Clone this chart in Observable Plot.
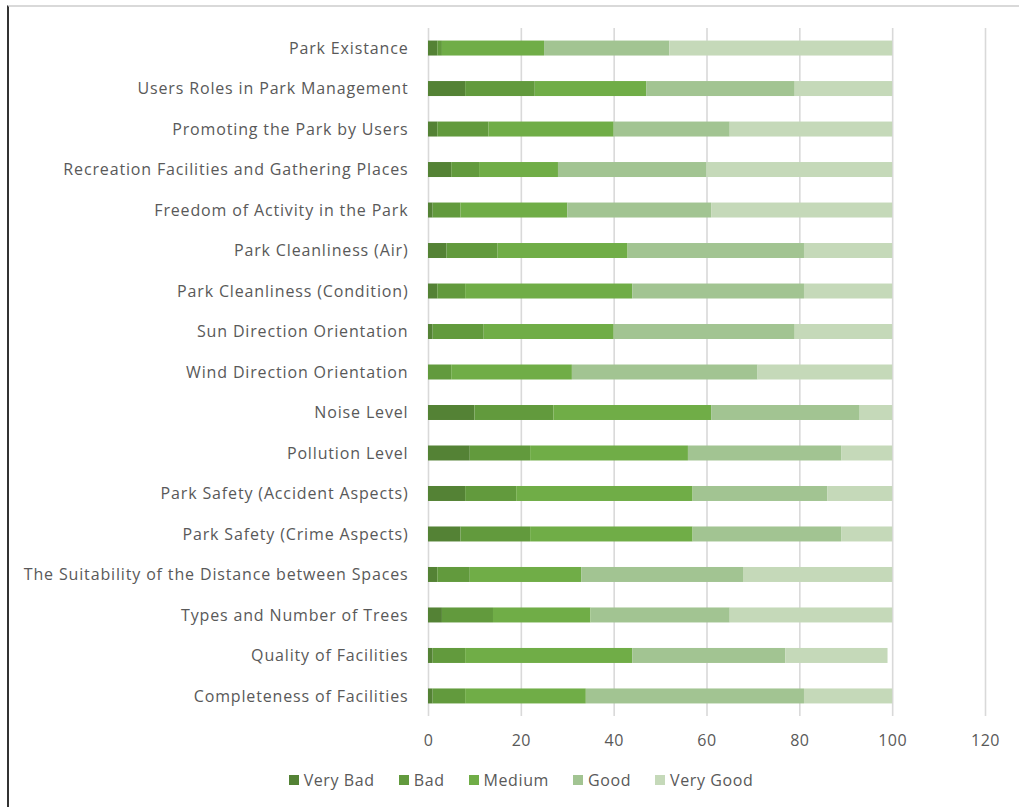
<!DOCTYPE html>
<html>
<head>
<meta charset="utf-8">
<script src="https://cdn.jsdelivr.net/npm/d3@7"></script>
<script src="https://cdn.jsdelivr.net/npm/@observablehq/plot@0.6"></script>
<style>
  html, body { margin: 0; padding: 0; background: #fff; }
  body { width: 1019px; height: 807px; position: relative; overflow: hidden; font-family: "Open Sans", Lato, sans-serif; }
  #frame { position: absolute; left: 7px; top: 5px; width: 1012px; height: 802px; border-left: 2px solid #333; border-top: 2px solid #d9d9d9; box-sizing: border-box; }
  #chart { position: absolute; left: 0; top: 0; }
  #chart svg g[aria-label="y-axis tick label"] text { letter-spacing: 0.85px; }
  #chart svg g[aria-label="x-axis tick label"] text { letter-spacing: 0.5px; }
  #legend { position: absolute; top: 769px; left: 0; width: 1042px; display: flex; justify-content: center; gap: 24px; font-size: 16px; color: #595959; letter-spacing: 0.6px; }
  #legend span.item { display: flex; align-items: center; }
  #legend span.sw { width: 10px; height: 10px; display: inline-block; margin-right: 5px; }
</style>
</head>
<body>
<div id="frame"></div>
<div id="chart"></div>
<div id="legend"></div>
<script>
const categories = [
  "Park Existance",
  "Users Roles in Park Management",
  "Promoting the Park by Users",
  "Recreation Facilities and Gathering Places",
  "Freedom of Activity in the Park",
  "Park Cleanliness (Air)",
  "Park Cleanliness (Condition)",
  "Sun Direction Orientation",
  "Wind Direction Orientation",
  "Noise Level",
  "Pollution Level",
  "Park Safety (Accident Aspects)",
  "Park Safety (Crime Aspects)",
  "The Suitability of the Distance between Spaces",
  "Types and Number of Trees",
  "Quality of Facilities",
  "Completeness of Facilities"
];
const levels = ["Very Bad", "Bad", "Medium", "Good", "Very Good"];
const veryBad  = [2, 8, 2, 5, 1, 4, 2, 1, 0, 10, 9, 8, 7, 2, 3, 1, 1];
const bad      = [1, 15, 11, 6, 6, 11, 6, 11, 5, 17, 13, 11, 15, 7, 11, 7, 7];
const medium   = [22, 24, 27, 17, 23, 28, 36, 28, 26, 34, 34, 38, 35, 24, 21, 36, 26];
const good     = [27, 32, 25, 32, 31, 38, 37, 39, 40, 32, 33, 29, 32, 35, 30, 33, 47];
const veryGood = [48, 21, 35, 40, 39, 19, 19, 21, 29, 7, 11, 14, 11, 32, 35, 22, 19];
const xTicks = [0, 20, 40, 60, 80, 100, 120];
const colors = ["#548235", "#629a3d", "#70ad47", "#a2c492", "#c5d9b9"];

const series = [veryBad, bad, medium, good, veryGood];
const data = [];
levels.forEach((lv, i) => {
  categories.forEach((c, j) => data.push({category: c, level: lv, value: series[i][j]}));
});

const chart = Plot.plot({
  width: 1019,
  height: 760,
  marginLeft: 428,
  marginRight: 34,
  marginTop: 28,
  marginBottom: 44,
  style: {fontFamily: "'Open Sans', Lato, sans-serif", fontSize: "16px", color: "#595959", background: "transparent"},
  x: {domain: [0, 120], ticks: xTicks, label: null, tickSize: 0, tickPadding: 18},
  y: {domain: categories, label: null, tickSize: 0, tickPadding: 20, paddingInner: 0.63, paddingOuter: 0.31, round: false},
  color: {domain: levels, range: colors},
  marks: [
    Plot.ruleX(xTicks, {stroke: "#d9d9d9", strokeWidth: 1.6}),
    Plot.barX(data, {x: "value", y: "category", fill: "level", order: levels}),
    Plot.axisX({ticks: xTicks, tickSize: 0, tickPadding: 18, label: null, fill: "#595959", fontSize: 16}),
    Plot.axisY({tickSize: 0, tickPadding: 20, label: null, fill: "#595959", fontSize: 16})
  ]
});
document.getElementById("chart").appendChild(chart);

const legend = document.getElementById("legend");
levels.forEach((lv, i) => {
  const item = document.createElement("span");
  item.className = "item";
  const sw = document.createElement("span");
  sw.className = "sw";
  sw.style.background = colors[i];
  item.appendChild(sw);
  item.appendChild(document.createTextNode(lv));
  legend.appendChild(item);
});
</script>
</body>
</html>
